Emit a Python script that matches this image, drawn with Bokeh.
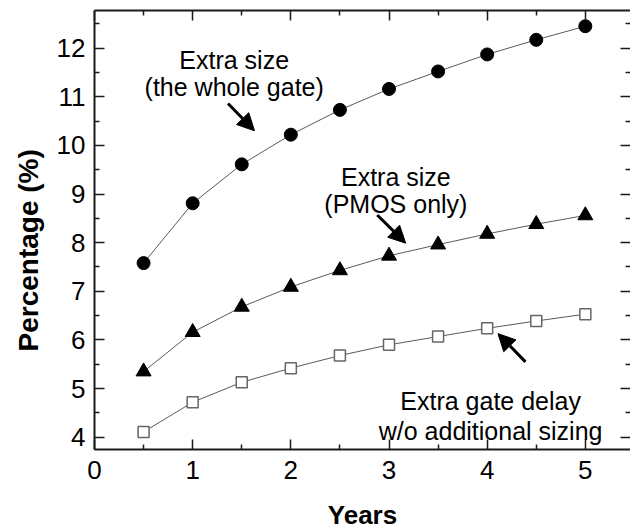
from bokeh.plotting import figure
from bokeh.models import (LinearAxis, FixedTicker, Range1d, Arrow, NormalHead, Label,
                          CustomLabelingPolicy, Title)
from bokeh.embed import file_html
from bokeh.resources import INLINE

# ---- data ----
years = [0.5, 1.0, 1.5, 2.0, 2.5, 3.0, 3.5, 4.0, 4.5, 5.0]
whole_gate = [7.58, 8.81, 9.61, 10.22, 10.73, 11.16, 11.52, 11.87, 12.17, 12.45]
pmos_only = [5.35, 6.16, 6.68, 7.09, 7.43, 7.73, 7.96, 8.18, 8.38, 8.56]
delay_no_sizing = [4.11, 4.72, 5.13, 5.42, 5.68, 5.90, 6.07, 6.24, 6.39, 6.53]

x_ticks = [0, 1, 2, 3, 4, 5]
x_minor = [0.5, 1.5, 2.5, 3.5, 4.5, 5.5]
y_ticks = [4, 5, 6, 7, 8, 9, 10, 11, 12]
y_minor = [3.5, 4.5, 5.5, 6.5, 7.5, 8.5, 9.5, 10.5, 11.5, 12.5]

x_label = "Years"
y_label = "Percentage (%)"

# annotation texts: (x, baseline y, text)
notes = [
    (1.423, 11.76, "Extra size"),
    (1.423, 11.20, "(the whole gate)"),
    (3.07, 9.35, "Extra size"),
    (3.07, 8.79, "(PMOS only)"),
    (4.035, 4.74, "Extra gate delay"),
    (4.035, 4.12, "w/o additional sizing"),
]
# arrows: (x_start, y_start, x_end, y_end)
arrows = [
    (1.36, 10.86, 1.63, 10.30),
    (2.88, 8.57, 3.17, 7.99),
    (4.39, 5.55, 4.11, 6.13),
]

FONT = "Liberation Sans"
AX = "#1a1a1a"

p = figure(width=630, height=532,
           x_range=Range1d(0, 5.46), y_range=Range1d(3.748, 12.773),
           output_backend="svg", toolbar_location=None,
           min_border_left=93, min_border_right=0,
           min_border_top=10, min_border_bottom=82)
p.outline_line_color = None
p.grid.visible = False
p.background_fill_color = "white"
p.border_fill_color = "white"

xt = FixedTicker(ticks=x_ticks, minor_ticks=x_minor)
yt = FixedTicker(ticks=y_ticks, minor_ticks=y_minor)

no_labels = CustomLabelingPolicy(
    code="const ids = Array.from(indices); for (const i of ids) { indices.unset(i) } return indices")

def style(ax, labels=True):
    ax.axis_line_color = AX
    ax.axis_line_width = 2
    ax.major_tick_line_color = AX
    ax.minor_tick_line_color = AX
    ax.major_tick_line_width = 1.5
    ax.minor_tick_line_width = 1.5
    ax.major_tick_in = 10
    ax.major_tick_out = 0
    ax.minor_tick_in = 5
    ax.minor_tick_out = 0
    ax.major_label_text_font = FONT
    ax.major_label_text_color = "black"
    if labels:
        ax.major_label_text_font_size = "26px"
    else:
        ax.major_label_policy = no_labels
        ax.major_label_text_font_size = "0px"
        ax.major_label_standoff = 0

xa = p.xaxis[0]
xa.ticker = xt
style(xa)
xa.major_label_standoff = 11
xa.axis_label = x_label
xa.axis_label_text_font = FONT
xa.axis_label_text_font_style = "bold"
xa.axis_label_text_font_size = "26px"
xa.axis_label_text_color = "black"
xa.axis_label_standoff = 18

ya = p.yaxis[0]
ya.ticker = yt
style(ya)
ya.major_label_standoff = 9

top = LinearAxis(ticker=FixedTicker(ticks=x_ticks, minor_ticks=x_minor))
style(top, labels=False)
p.add_layout(top, "above")

right = LinearAxis(ticker=FixedTicker(ticks=y_ticks, minor_ticks=y_minor))
style(right, labels=False)
right.axis_line_color = None
p.add_layout(right, "right")

# y-axis title as a left-side title so it can be offset along the axis
ytitle = Title(text=y_label, align="left", offset=98, standoff=20,
               text_font=FONT, text_font_size="28px", text_font_style="bold",
               text_color="black")
p.add_layout(ytitle, "left")

LINE = "#5a5a5a"
p.line(years, whole_gate, line_color=LINE, line_width=1)
p.line(years, pmos_only, line_color=LINE, line_width=1)
p.line(years, delay_no_sizing, line_color=LINE, line_width=1)

p.scatter(years, whole_gate, marker="circle", size=13, fill_color="black", line_color="black")
p.scatter(years, pmos_only, marker="triangle", size=15, fill_color="black", line_color="black")
p.scatter(years, delay_no_sizing, marker="square", size=11, fill_color="white",
          line_color="#666666", line_width=1.5)

for (x, y, t) in notes:
    p.add_layout(Label(x=x, y=y, text=t, text_font=FONT, text_font_size="25px",
                       text_align="center", text_baseline="alphabetic", text_color="black"))

for (x0, y0, x1, y1) in arrows:
    p.add_layout(Arrow(x_start=x0, y_start=y0, x_end=x1, y_end=y1,
                       line_width=3, line_color="black",
                       end=NormalHead(size=17, fill_color="black", line_color="black")))

open("out.html", "w").write(file_html(p, INLINE))
